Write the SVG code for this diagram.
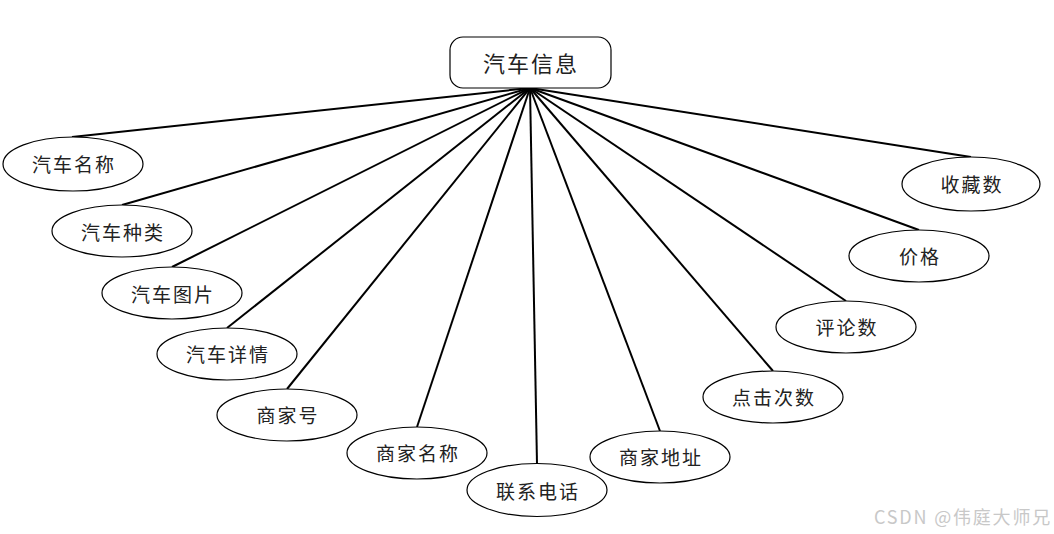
<svg xmlns="http://www.w3.org/2000/svg" width="1054" height="534" viewBox="0 0 1054 534">
<style>
.e{fill:#fff;stroke:#000;stroke-width:1.2}
.t{font-family:"Noto Sans CJK SC","Noto Sans",sans-serif;font-size:19px;letter-spacing:2px;fill:#222;text-anchor:middle;dominant-baseline:central}
.c line{stroke:#000;stroke-width:2}
</style>
<rect width="1054" height="534" fill="#fff"/>
<g class="c" id="connectors">
<line x1="530" y1="88" x2="72" y2="137"/>
<line x1="530" y1="88" x2="122" y2="205"/>
<line x1="530" y1="88" x2="172" y2="267"/>
<line x1="530" y1="88" x2="227" y2="328"/>
<line x1="530" y1="88" x2="287" y2="389"/>
<line x1="530" y1="88" x2="417" y2="427"/>
<line x1="530" y1="88" x2="537" y2="464"/>
<line x1="530" y1="88" x2="660" y2="431"/>
<line x1="530" y1="88" x2="773" y2="371"/>
<line x1="530" y1="88" x2="846" y2="301"/>
<line x1="530" y1="88" x2="919" y2="230"/>
<line x1="530" y1="88" x2="971" y2="157"/>
</g>
<g id="root">
<rect x="450" y="37" width="161" height="51" rx="13" fill="#fff" stroke="#000" stroke-width="1.2"/>
<text class="t" x="531" y="62" style="font-size:22px">汽车信息</text>
</g>
<g id="n1"><ellipse class="e" cx="73" cy="164" rx="70" ry="27"/><text class="t" x="74" y="163">汽车名称</text></g>
<g id="n2"><ellipse class="e" cx="122" cy="231" rx="70" ry="26"/><text class="t" x="123" y="231">汽车种类</text></g>
<g id="n3"><ellipse class="e" cx="172" cy="293" rx="70" ry="26"/><text class="t" x="173" y="293">汽车图片</text></g>
<g id="n4"><ellipse class="e" cx="227" cy="354" rx="70" ry="26"/><text class="t" x="228" y="353">汽车详情</text></g>
<g id="n5"><ellipse class="e" cx="287" cy="415" rx="70" ry="26"/><text class="t" x="288" y="414">商家号</text></g>
<g id="n6"><ellipse class="e" cx="417" cy="453" rx="70" ry="26"/><text class="t" x="418" y="452">商家名称</text></g>
<g id="n7"><ellipse class="e" cx="537" cy="490" rx="70" ry="26.5"/><text class="t" x="538" y="490">联系电话</text></g>
<g id="n8"><ellipse class="e" cx="660" cy="457" rx="70" ry="26"/><text class="t" x="661" y="456">商家地址</text></g>
<g id="n9"><ellipse class="e" cx="773" cy="397" rx="70" ry="26"/><text class="t" x="774" y="396">点击次数</text></g>
<g id="n10"><ellipse class="e" cx="846" cy="327" rx="70" ry="26"/><text class="t" x="847" y="326">评论数</text></g>
<g id="n11"><ellipse class="e" cx="919" cy="256" rx="70" ry="26"/><text class="t" x="920" y="255">价格</text></g>
<g id="n12"><ellipse class="e" cx="971" cy="184" rx="69" ry="27"/><text class="t" x="972" y="183">收藏数</text></g>
<text x="1052" y="524" style="font-family:'Noto Sans CJK SC','Noto Sans',sans-serif;font-size:18px;letter-spacing:1.8px;fill:#c8c8c8;text-anchor:end">CSDN @伟庭大师兄</text>
</svg>
